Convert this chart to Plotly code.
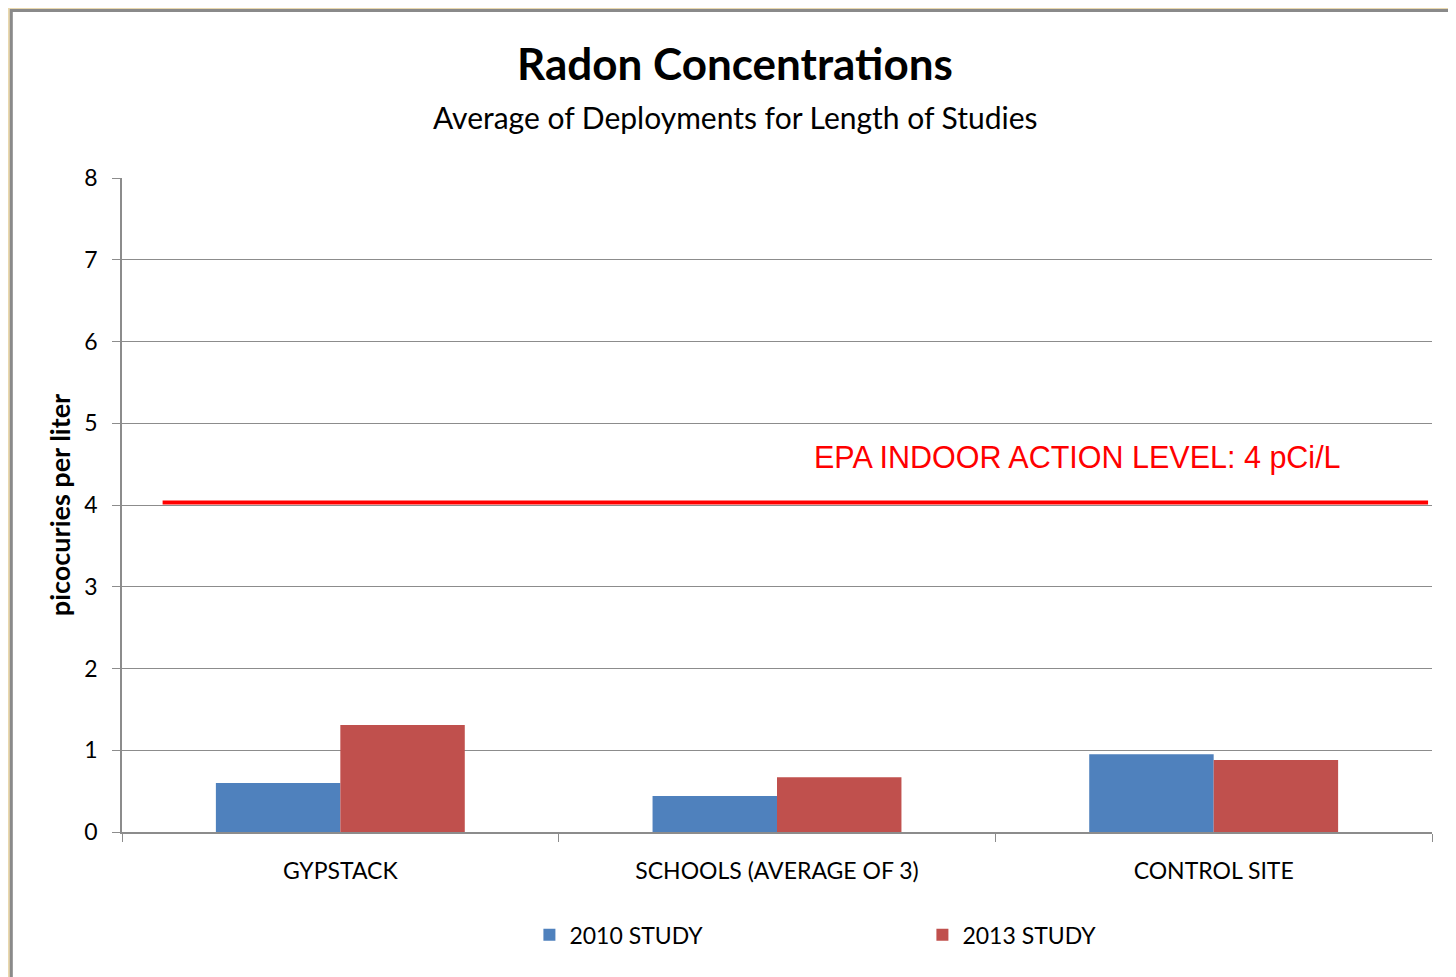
import plotly.graph_objects as go

# Data
categories = ["GYPSTACK", "SCHOOLS (AVERAGE OF 3)", "CONTROL SITE"]
study_2010 = [0.60, 0.44, 0.95]
study_2013 = [1.31, 0.67, 0.88]
epa_level = 4.03
y_ticks = [0, 1, 2, 3, 4, 5, 6, 7, 8]

_COLORS = {
    "2010": "#4F81BD",
    "2013": "#C0504D",
    "epa": "#FF0000",
    "grid": "#8C8C8C",
}
_FONT = "Lato, Calibri, sans-serif"

fig = go.Figure()
fig.add_trace(go.Bar(x=categories, y=study_2010, name="2010 STUDY",
                     marker=dict(color=_COLORS["2010"], line=dict(width=0))))
fig.add_trace(go.Bar(x=categories, y=study_2013, name="2013 STUDY",
                     marker=dict(color=_COLORS["2013"], line=dict(width=0))))

# white chart panel with grey edge on the beige page
fig.add_shape(type="rect", xref="paper", yref="paper",
              x0=-0.0845, x1=1.03, y0=-0.25, y1=1.256,
              fillcolor="white", line=dict(color="#8A8A8A", width=3), layer="below")

# EPA reference line
fig.add_shape(type="line", xref="paper", yref="y", x0=0.031, x1=0.997,
              y0=epa_level, y1=epa_level, line=dict(color=_COLORS["epa"], width=4))
fig.add_annotation(xref="paper", yref="y", x=0.527, y=epa_level + 0.55,
                   text="EPA INDOOR ACTION LEVEL: 4 pCi/L", showarrow=False,
                   xanchor="left", yanchor="middle",
                   font=dict(family="Liberation Sans, Arial", size=30.5, color=_COLORS["epa"]))

fig.add_annotation(xref="paper", yref="paper", x=0.468, y=1.176,
                   text="<b>Radon Concentrations</b>", showarrow=False,
                   xanchor="center", yanchor="middle",
                   font=dict(family=_FONT, size=44, color="black"))
fig.add_annotation(xref="paper", yref="paper", x=0.468, y=1.093,
                   text="Average of Deployments for Length of Studies", showarrow=False,
                   xanchor="center", yanchor="middle",
                   font=dict(family=_FONT, size=30, color="black"))

fig.update_xaxes(
    showline=True, linecolor=_COLORS["grid"], linewidth=1.5,
    ticks="outside", tickson="boundaries", ticklen=8, tickcolor=_COLORS["grid"],
    ticklabelstandoff=18,
    tickfont=dict(family=_FONT, size=23, color="black"),
    showgrid=False,
)
fig.update_yaxes(
    range=[0, 8], tickvals=y_ticks, showgrid=True, gridcolor=_COLORS["grid"], gridwidth=1,
    showline=True, linecolor=_COLORS["grid"], linewidth=1.5,
    ticks="outside", ticklen=8, tickcolor=_COLORS["grid"],
    ticklabelstandoff=10,
    tickfont=dict(family=_FONT, size=23, color="black"),
    title=dict(text="<b>picocuries per liter</b>", standoff=6,
               font=dict(family=_FONT, size=27, color="black")),
    zeroline=False,
)

# the page adds an 8px body margin, so the figure is 8px smaller than the window
fig.update_layout(
    width=1448, height=969,
    barmode="group", bargap=0.43, bargroupgap=0,
    paper_bgcolor="#E9D8AE", plot_bgcolor="white",
    margin=dict(l=114, r=24, t=170, b=145),
    showlegend=True,
    legend=dict(orientation="h", x=0.611, y=-0.157, xanchor="center", yanchor="middle",
                entrywidth=348, font=dict(family=_FONT, size=23, color="black"),
                bgcolor="rgba(0,0,0,0)", traceorder="normal"),
)

fig.write_html("out.html")
